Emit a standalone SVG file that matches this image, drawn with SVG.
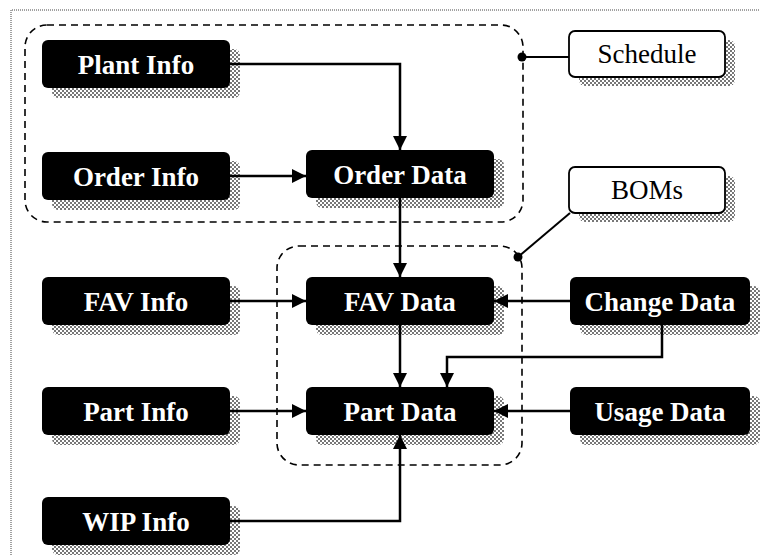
<svg xmlns="http://www.w3.org/2000/svg" width="760" height="555" viewBox="0 0 760 555">
<defs>
<pattern id="chk" width="4" height="4" patternUnits="userSpaceOnUse">
<rect width="4" height="4" fill="#fff"/>
<rect width="2" height="2" fill="#777"/>
<rect x="2" y="2" width="2" height="2" fill="#777"/>
</pattern>
<marker id="arr" markerWidth="14" markerHeight="14" refX="14" refY="7" orient="auto" markerUnits="userSpaceOnUse">
<path d="M0,0 L14,7 L0,14 Z" fill="#000"/>
</marker>
<style>
.sh{fill:url(#chk)}
.bx{fill:#000}
.wb{fill:#fff;stroke:#000;stroke-width:1.8}
.t{font-family:"Liberation Serif","Times New Roman",serif;font-weight:bold;font-size:27px;fill:#fff;text-anchor:middle}
.ct{font-family:"Liberation Serif","Times New Roman",serif;font-size:27px;fill:#000;text-anchor:middle}
.c{fill:none;stroke:#000;stroke-width:2.5}
.grp{fill:none;stroke:#000;stroke-width:1.6;stroke-dasharray:7,5}
.frame{fill:none;stroke:#444;stroke-width:1;stroke-dasharray:1,1}
</style>
</defs>
<rect width="760" height="555" fill="#fff"/>
<path class="frame" d="M11,555 V10 H760"/>

<g id="groups">
<rect class="grp" x="25" y="25" width="498" height="197" rx="22"/>
<rect class="grp" x="277" y="246" width="245" height="219" rx="22"/>
</g>

<g id="plant-info"><rect class="sh" x="52" y="49" width="188" height="49" rx="6"/><rect class="bx" x="42" y="40" width="188" height="48" rx="6"/><text class="t" x="136" y="74">Plant Info</text></g>
<g id="order-info"><rect class="sh" x="52" y="161" width="188" height="49" rx="6"/><rect class="bx" x="42" y="152" width="188" height="48" rx="6"/><text class="t" x="136" y="186">Order Info</text></g>
<g id="order-data"><rect class="sh" x="316" y="159" width="188" height="49" rx="6"/><rect class="bx" x="306" y="150" width="188" height="48" rx="6"/><text class="t" x="400" y="184">Order Data</text></g>
<g id="fav-info"><rect class="sh" x="52" y="286" width="188" height="49" rx="6"/><rect class="bx" x="42" y="277" width="188" height="48" rx="6"/><text class="t" x="136" y="311">FAV Info</text></g>
<g id="fav-data"><rect class="sh" x="316" y="286" width="188" height="49" rx="6"/><rect class="bx" x="306" y="277" width="188" height="48" rx="6"/><text class="t" x="400" y="311">FAV Data</text></g>
<g id="change-data"><rect class="sh" x="580" y="286" width="180" height="49" rx="6"/><rect class="bx" x="570" y="277" width="180" height="48" rx="6"/><text class="t" x="660" y="311">Change Data</text></g>
<g id="part-info"><rect class="sh" x="52" y="396" width="188" height="49" rx="6"/><rect class="bx" x="42" y="387" width="188" height="48" rx="6"/><text class="t" x="136" y="421">Part Info</text></g>
<g id="part-data"><rect class="sh" x="316" y="396" width="188" height="49" rx="6"/><rect class="bx" x="306" y="387" width="188" height="48" rx="6"/><text class="t" x="400" y="421">Part Data</text></g>
<g id="usage-data"><rect class="sh" x="580" y="396" width="180" height="49" rx="6"/><rect class="bx" x="570" y="387" width="180" height="48" rx="6"/><text class="t" x="660" y="421">Usage Data</text></g>
<g id="wip-info"><rect class="sh" x="52" y="506" width="188" height="49" rx="6"/><rect class="bx" x="42" y="497" width="188" height="48" rx="6"/><text class="t" x="136" y="531">WIP Info</text></g>

<g id="schedule"><rect class="sh" x="579" y="40" width="156" height="46" rx="6"/><rect class="wb" x="569" y="31" width="156" height="46" rx="6"/><text class="ct" x="647" y="63">Schedule</text></g>
<g id="boms"><rect class="sh" x="579" y="176" width="156" height="46" rx="6"/><rect class="wb" x="569" y="167" width="156" height="46" rx="6"/><text class="ct" x="647" y="199">BOMs</text></g>

<g id="connectors">
<path class="c" d="M230,64 H400 V150" marker-end="url(#arr)"/>
<path class="c" d="M230,176 H306" marker-end="url(#arr)"/>
<path class="c" d="M400,198 V277" marker-end="url(#arr)"/>
<path class="c" d="M230,301 H306" marker-end="url(#arr)"/>
<path class="c" d="M570,301 H494" marker-end="url(#arr)"/>
<path class="c" d="M400,325 V387" marker-end="url(#arr)"/>
<path class="c" d="M662,325 V357 H447 V387" marker-end="url(#arr)"/>
<path class="c" d="M230,411 H306" marker-end="url(#arr)"/>
<path class="c" d="M570,411 H494" marker-end="url(#arr)"/>
<path class="c" d="M230,521 H400 V435" marker-end="url(#arr)"/>
<path fill="none" stroke="#000" stroke-width="2" d="M522,57 H569"/>
<path fill="none" stroke="#000" stroke-width="2" d="M518,257 L570,213"/>
<circle cx="522" cy="57" r="4.5" fill="#000"/>
<circle cx="518" cy="257" r="4.5" fill="#000"/>
</g>
</svg>
